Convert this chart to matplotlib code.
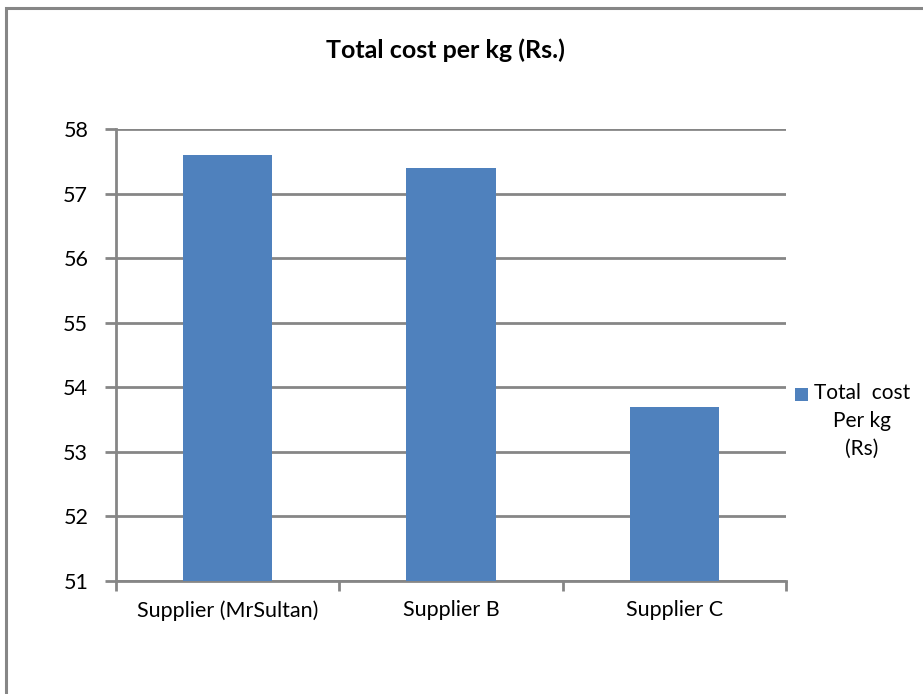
import matplotlib.pyplot as plt
from matplotlib.patches import Rectangle

suppliers = ["Supplier (MrSultan)", "Supplier B", "Supplier C"]
cost_per_kg = [57.6, 57.4, 53.7]
y_ticks = [51, 52, 53, 54, 55, 56, 57, 58]

plt.rcParams["font.family"] = ["Lato", "DejaVu Sans"]
grey = "#868686"
blue = "#4F81BD"

fig = plt.figure(figsize=(9.23, 6.94), dpi=100)
ax = fig.add_axes([116 / 923, 1 - 581 / 694, (786 - 116) / 923, (581 - 129) / 694])

# chart border (cropped on right and bottom)
fig.patches.append(Rectangle((6 / 923, -0.1), 1.2, 1 - 8 / 694 + 0.1,
                             transform=fig.transFigure, fill=False,
                             edgecolor=grey, linewidth=2.2))

ax.bar(range(len(suppliers)), cost_per_kg, width=0.4, color=blue, zorder=3)

ax.set_xlim(-0.5, 2.5)
ax.set_ylim(51, 58)
ax.set_yticks(y_ticks)
ax.set_xticks([-0.5, 0.5, 1.5, 2.5], minor=False)
ax.set_xticklabels([])
ax.set_xticks(range(len(suppliers)), minor=True)
ax.set_xticklabels(suppliers, minor=True, fontsize=15.5)
ax.tick_params(axis="x", which="minor", length=0, pad=14)
ax.tick_params(axis="x", which="major", length=7, width=2, color=grey)
ax.tick_params(axis="y", length=8, width=2, color=grey, labelsize=15.5, pad=12)

ax.grid(axis="y", color=grey, linewidth=2, zorder=1)
for side in ["top", "right"]:
    ax.spines[side].set_visible(False)
for side in ["left", "bottom"]:
    ax.spines[side].set_color(grey)
    ax.spines[side].set_linewidth(2)

fig.text(445 / 923, 1 - 50 / 694, "Total cost per kg (Rs.)", ha="center",
         va="center", fontsize=18, fontweight="bold")

# legend
fig.patches.append(Rectangle((795 / 923, 1 - 401 / 694), 13 / 923, 13 / 694,
                             transform=fig.transFigure, facecolor=blue,
                             edgecolor="none"))
fig.text(862 / 923, 1 - 383 / 694, "Total  cost\nPer kg\n(Rs)", ha="center",
         va="top", fontsize=15, linespacing=1.5)

fig.savefig("out.png", dpi=100)
